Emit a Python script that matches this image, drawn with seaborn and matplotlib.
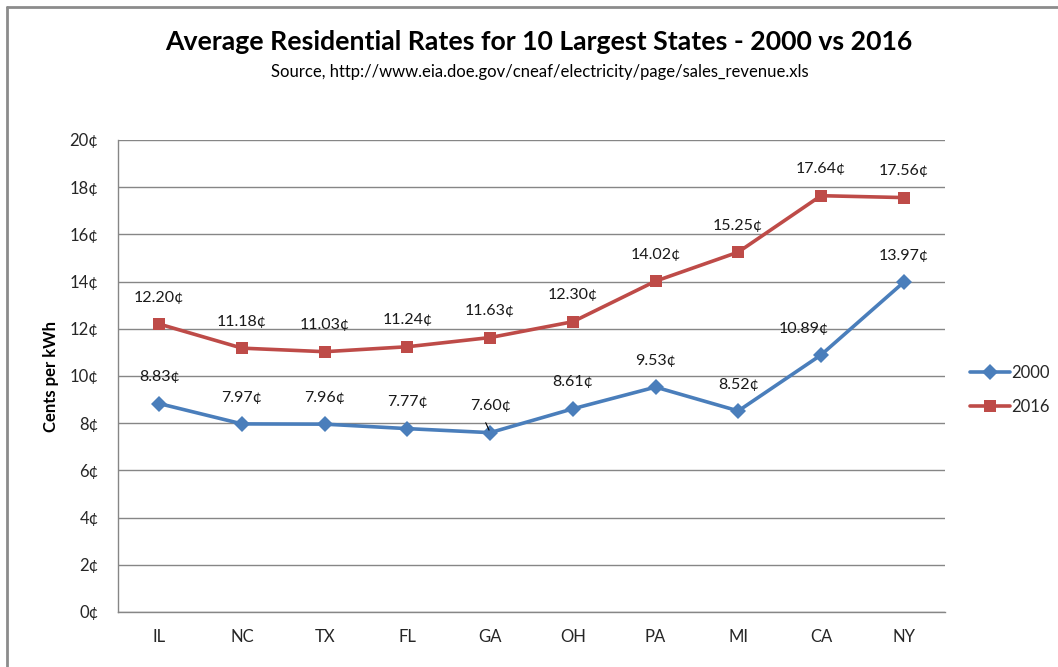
#Import the libraries
import pandas as pd
import numpy as np
from matplotlib import pyplot as plt
from matplotlib.lines import Line2D
import seaborn as sb

# chart data
states = ['IL', 'NC', 'TX', 'FL', 'GA', 'OH', 'PA', 'MI', 'CA', 'NY']
rates_2000 = [8.83, 7.97, 7.96, 7.77, 7.60, 8.61, 9.53, 8.52, 10.89, 13.97]
rates_2016 = [12.20, 11.18, 11.03, 11.24, 11.63, 12.30, 14.02, 15.25, 17.64, 17.56]
years = ['2000', '2016']
y_ticks = [0, 2, 4, 6, 8, 10, 12, 14, 16, 18, 20]

blue = '#4A7EBB'
red = '#BE4B48'

sb.set_theme(style='white')
plt.rcParams['font.family'] = ['Lato', 'DejaVu Sans']

data_frame = pd.DataFrame({
    'State': states * 2,
    'Rate': rates_2000 + rates_2016,
    'Year': [years[0]] * len(states) + [years[1]] * len(states),
})

fig = plt.figure(figsize=(10.58, 6.67), dpi=100)
ax = fig.add_axes([118 / 1058, 55 / 667, 827 / 1058, 472 / 667])

sb.lineplot(data=data_frame, x='State', y='Rate', hue='Year', style='Year',
            markers={'2000': 'D', '2016': 's'}, dashes=False, sort=False,
            palette={'2000': blue, '2016': red}, linewidth=2.6,
            markersize=8, markeredgewidth=0, ax=ax)

# data labels above each point (CA 2000 label sits a bit to the left, like Excel put it)
for year, vals in zip(years, (rates_2000, rates_2016)):
    for i, v in enumerate(vals):
        dx = -12 if (year == '2000' and states[i] == 'CA') else 0
        ax.annotate(f'{v:.2f}¢', (i, v), xytext=(dx, 19), textcoords='offset points',
                    ha='center', va='center', fontsize=11.5, color='#1a1a1a')

# little leader line on GA 2000
ga = states.index('GA')
ax.annotate('', (ga, rates_2000[ga]), xytext=(-4, 9), textcoords='offset points',
            arrowprops=dict(arrowstyle='-', color='black', lw=0.8))

ax.set_xlim(-0.5, len(states) - 0.5)
ax.set_ylim(0, 20)
ax.set_yticks(y_ticks)
ax.set_yticklabels([f'{t}¢' for t in y_ticks])
ax.grid(axis='y', color='#868686', linewidth=1)
ax.set_axisbelow(True)
for side in ['top', 'right']:
    ax.spines[side].set_visible(False)
for side in ['left', 'bottom']:
    ax.spines[side].set_color('#868686')
    ax.spines[side].set_linewidth(1)
ax.tick_params(length=0, labelsize=12, colors='#262626', pad=14)
ax.tick_params(axis='x', pad=12)
ax.set_xlabel('')
ax.set_ylabel('Cents per kWh', fontsize=12, fontweight='bold', color='black', labelpad=8)

ax.legend(loc='center left', bbox_to_anchor=(1.012, 0.47), frameon=False,
          fontsize=12, handlelength=2.4, handletextpad=0.1, labelspacing=1.1)

fig.text(539 / 1058, 1 - 42 / 667, 'Average Residential Rates for 10 Largest States - 2000 vs 2016',
         ha='center', va='center', fontsize=19.2, fontweight='bold', color='black')
fig.text(540 / 1058, 1 - 72 / 667, 'Source, http://www.eia.doe.gov/cneaf/electricity/page/sales_revenue.xls',
         ha='center', va='center', fontsize=12, color='black')

# chart border
fig.add_artist(Line2D([7 / 1058, 1.0], [1 - 7 / 667, 1 - 7 / 667], color='#8c8c8c', linewidth=2))
fig.add_artist(Line2D([7 / 1058, 7 / 1058], [0, 1 - 7 / 667], color='#8c8c8c', linewidth=2))

fig.savefig('out.png', dpi=100)
